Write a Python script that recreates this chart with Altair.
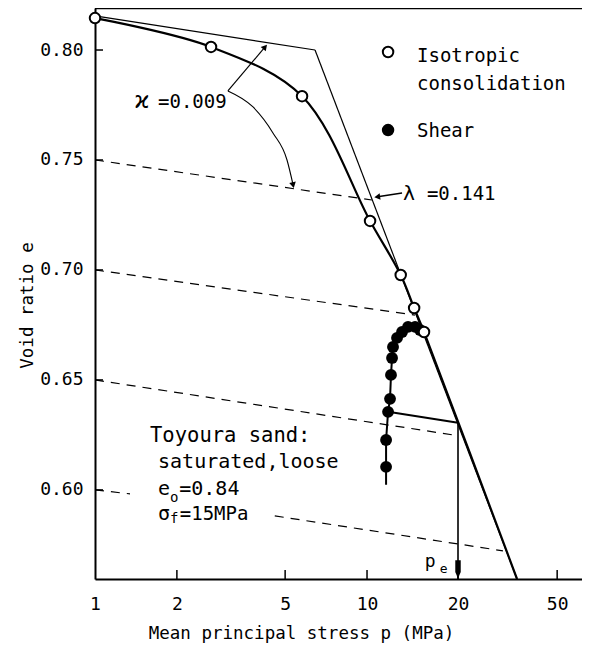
import altair as alt
import pandas as pd

FONT = "DejaVu Sans Mono"

# ---------------- data ----------------
# isotropic consolidation (open circles)
iso_p = [1.0, 2.67, 5.77, 10.26, 13.3, 14.9, 16.2]
iso_e = [0.8145, 0.8014, 0.779, 0.7223, 0.6977, 0.6827, 0.6718]
curve_end_p, curve_end_e = 35.6, 0.5595

# shear path (filled circles), followed from the stem end to the last iso point
shear_p = [11.75, 11.75, 11.95, 12.15, 12.25, 12.36, 12.46, 12.89, 13.45, 14.15, 15.02, 15.66]
shear_e = [0.6105, 0.6227, 0.6355, 0.6414, 0.6523, 0.66, 0.665, 0.6691, 0.6718, 0.6741, 0.6741, 0.6727]
stem_p, stem_e = 11.75, 0.6023

# bilinear kappa / lambda idealisation (thin line)
env_p = [1.0, 6.44, 35.6]
env_e = [0.8155, 0.80, 0.5595]

# dashed kappa lines (segments)
dash_p0 = [1.0, 1.0, 1.0, 1.0, 4.58]
dash_e0 = [0.75, 0.70, 0.65, 0.60, 0.5882]
dash_p1 = [10.42, 15.0, 20.7, 1.345, 31.6]
dash_e1 = [0.7318, 0.6795, 0.625, 0.5982, 0.5723]

# equivalent pressure construction
pe_value = 21.6
pe_from_p, pe_from_e = 11.95, 0.6355
pe_e = 0.6305
pe_arrow_e = 0.5639

# axes
x_tick_vals = [1, 2, 5, 10, 21.6, 50]
x_tick_text = ["1", "2", "5", "10", "20", "50"]
y_tick_vals = [0.60, 0.65, 0.70, 0.75, 0.80]
x_domain = [1, 61.7]
y_domain = [0.5595, 0.8191]

# annotation arrows
kappa_up_p = [3.08, 4.22]
kappa_up_e = [0.7814, 0.8014]
kappa_arc_p = [3.08, 3.81, 4.51, 5.08, 5.35]
kappa_arc_e = [0.7814, 0.7741, 0.7623, 0.75, 0.7386]
lam_arrow_p = [13.45, 10.79]
lam_arrow_e = [0.735, 0.7332]
head_p = [4.22, 5.35, 10.9]
head_e = [0.8014, 0.7386, 0.7332]
head_angle = [41, 168, 262]

# legend symbols
leg_p = [11.95, 11.95]
leg_e = [0.7991, 0.7636]
leg_kind = ["open", "filled"]

# texts (left, baseline)
txt = ["Isotropic", "consolidation", "Shear",
       "\u03f0", "=0.009", "\u03bb", "=0.141",
       "Toyoura sand:", "saturated,loose",
       "e", "o", "=0.84", "\u03c3", "f", "=15MPa",
       "p", "e"]
txt_p = [15.27, 15.27, 15.27,
         1.403, 1.705, 13.56, 16.6,
         1.593, 1.705,
         1.705, 1.886, 2.04, 1.705, 1.886, 2.05,
         16.3, 18.5]
txt_e = [0.7945, 0.7818, 0.7605,
         0.7736, 0.7736, 0.7318, 0.7318,
         0.6218, 0.61,
         0.5977, 0.5945, 0.5977, 0.5864, 0.585, 0.5864,
         0.565, 0.5623]
txt_size = [19, 19, 19,
            23, 19, 20, 19,
            20.5, 20,
            20, 14, 20, 20, 14, 19,
            18, 13]

# ---------------- chart ----------------
label_expr = " : ".join(
    f"abs(datum.value - {v}) < 0.001 ? '{t}'" for v, t in zip(x_tick_vals, x_tick_text)
) + " : ''"

xs = alt.Scale(type="log", domain=x_domain, nice=False)
ys = alt.Scale(domain=y_domain, nice=False, zero=False)

x_axis = alt.Axis(values=x_tick_vals, labelExpr=label_expr, tickSize=0, domainWidth=2,
                  domainColor="black", labelFont=FONT, labelFontSize=18, labelColor="black",
                  labelPadding=16, grid=False, labelFlush=False, labelOverlap=False,
                  title="Mean principal stress p (MPa)", titleFont=FONT, titleFontSize=17.5,
                  titleFontWeight="normal", titleColor="black", titleX=206, titleY=59,
                  titleAlign="center", titleBaseline="alphabetic")
y_axis = alt.Axis(values=y_tick_vals, format=".2f", tickSize=0, domainWidth=2,
                  domainColor="black", labelFont=FONT, labelFontSize=18, labelColor="black",
                  labelPadding=12, grid=False, labelFlush=False, labelOverlap=False,
                  title="Void ratio e", titleFont=FONT, titleFontSize=17.5,
                  titleFontWeight="normal", titleColor="black", titleAngle=270,
                  titleX=-68, titleY=297, titleAlign="center", titleBaseline="middle")


def X(f):
    return alt.X(f, type="quantitative", scale=xs, axis=x_axis)


def Y(f):
    return alt.Y(f, type="quantitative", scale=ys, axis=y_axis)


iso_df = pd.DataFrame({"p": iso_p, "e": iso_e})
curve_df = pd.DataFrame({"p": iso_p + [curve_end_p], "e": iso_e + [curve_end_e]})
shear_line_df = pd.DataFrame({
    "p": [stem_p] + shear_p + [iso_p[-1]],
    "e": [stem_e] + shear_e + [iso_e[-1]],
})
shear_line_df["o"] = range(len(shear_line_df))
shear_df = pd.DataFrame({"p": shear_p, "e": shear_e})

env_df = pd.DataFrame({"p": env_p[:-1], "e": env_e[:-1], "p1": env_p[1:], "e1": env_e[1:]})
dash_df = pd.DataFrame({"p": dash_p0, "e": dash_e0, "p1": dash_p1, "e1": dash_e1})
solid_df = pd.DataFrame({
    "p": [pe_from_p, pe_value, kappa_up_p[0], lam_arrow_p[0]],
    "e": [pe_from_e, pe_e, kappa_up_e[0], lam_arrow_e[0]],
    "p1": [pe_value, pe_value, kappa_up_p[1], lam_arrow_p[1]],
    "e1": [pe_e, y_domain[0], kappa_up_e[1], lam_arrow_e[1]],
    "w": [2.0, 1.6, 1.2, 1.6],
})
arc_df = pd.DataFrame({"p": kappa_arc_p, "e": kappa_arc_e})
head_df = pd.DataFrame({"p": head_p, "e": head_e, "a": head_angle})
pe_head_df = pd.DataFrame({"p": [pe_value], "e": [pe_arrow_e]})
leg_df = pd.DataFrame({"p": leg_p, "e": leg_e, "k": leg_kind})
txt_df = pd.DataFrame({"p": txt_p, "e": txt_e, "t": txt, "s": txt_size})
ytick_df = pd.DataFrame({"e": y_tick_vals})
xtick_df = pd.DataFrame({"p": x_tick_vals[1:]})

PLOT_W, PLOT_H = 487, 571

layers = []

layers.append(alt.Chart(dash_df).mark_rule(color="black", strokeWidth=1.2, strokeDash=[9, 7]).encode(
    x=X("p"), y=Y("e"), x2="p1", y2="e1"))
layers.append(alt.Chart(env_df).mark_rule(color="black", strokeWidth=1.2).encode(
    x=X("p"), y=Y("e"), x2="p1", y2="e1"))
layers.append(alt.Chart(solid_df).mark_rule(color="black").encode(
    x=X("p"), y=Y("e"), x2="p1", y2="e1", strokeWidth=alt.StrokeWidth("w:Q", scale=None)))
layers.append(alt.Chart(arc_df).mark_line(color="black", strokeWidth=1.1, interpolate="monotone").encode(
    x=X("p"), y=Y("e")))
layers.append(alt.Chart(curve_df).mark_line(color="black", strokeWidth=2.2, interpolate="catmull-rom").encode(
    x=X("p"), y=Y("e")))
layers.append(alt.Chart(shear_line_df).mark_line(color="black", strokeWidth=2).encode(
    x=X("p"), y=Y("e"), order="o:Q"))
layers.append(alt.Chart(shear_df).mark_point(filled=True, color="black", size=140, opacity=1).encode(
    x=X("p"), y=Y("e")))
layers.append(alt.Chart(iso_df).mark_point(shape="circle", fill="white", filled=True, stroke="black",
                                           strokeWidth=2, size=110, opacity=1).encode(
    x=X("p"), y=Y("e")))
layers.append(alt.Chart(head_df).mark_point(shape="triangle-up", filled=True, color="black", size=45,
                                            opacity=1).encode(
    x=X("p"), y=Y("e"), angle=alt.Angle("a:Q", scale=None)))
layers.append(alt.Chart(pe_head_df).mark_point(shape="M-0.3,-1L0.3,-1L0.3,0.3L0,1L-0.3,0.3Z",
                                               filled=True, color="black", size=330, opacity=1).encode(
    x=X("p"), y=Y("e")))
layers.append(alt.Chart(leg_df).mark_point(shape="circle", filled=True, stroke="black", strokeWidth=2,
                                           size=110, opacity=1).encode(
    x=X("p"), y=Y("e"),
    fill=alt.Fill("k:N", scale=alt.Scale(domain=["open", "filled"], range=["white", "black"]),
                  legend=None)))
layers.append(alt.Chart(txt_df).mark_text(font=FONT, align="left", baseline="alphabetic",
                                          color="black").encode(
    x=X("p"), y=Y("e"), text="t:N", size=alt.Size("s:Q", scale=None)))
# inward ticks
layers.append(alt.Chart(ytick_df).mark_rule(color="black", strokeWidth=1.5).encode(
    y=Y("e"), x=alt.value(0), x2=alt.value(8)))
layers.append(alt.Chart(xtick_df).mark_rule(color="black", strokeWidth=1.5).encode(
    x=X("p"), y=alt.value(PLOT_H), y2=alt.value(PLOT_H - 9)))
# top frame line
layers.append(alt.Chart(pd.DataFrame({"e": [y_domain[1]]})).mark_rule(color="black", strokeWidth=2.5).encode(
    y=Y("e"), x=alt.value(0), x2=alt.value(PLOT_W)))

chart = alt.layer(*layers).properties(
    width=PLOT_W, height=PLOT_H,
    padding={"left": 87, "top": 0, "right": 0, "bottom": 73},
    autosize=alt.AutoSizeParams(type="none"),
).configure_view(stroke=None).configure(background="white")

chart.save("out.html", embed_options={"renderer": "svg", "actions": False})
